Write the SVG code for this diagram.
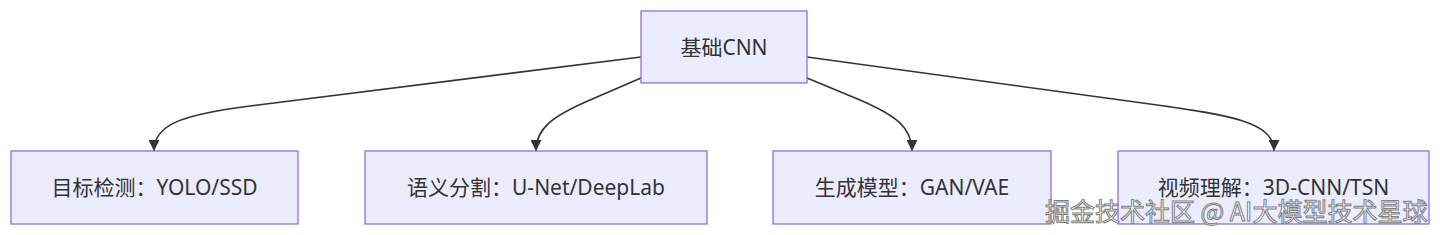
<svg xmlns="http://www.w3.org/2000/svg" width="1440" height="235" viewBox="0 0 1440 235">
<defs>
<style>
.node rect{fill:#ECECFF;stroke:#9370DB;stroke-width:1.3}
.node text{font-family:"Noto Sans","Noto Sans CJK SC",sans-serif;font-size:21px;fill:#333333;text-anchor:middle;dominant-baseline:central}
.edge{fill:none;stroke:#333333;stroke-width:1.6}
.wm{font-family:"Noto Sans CJK SC",sans-serif;font-size:25px;fill:#ffffff;stroke:#808080;stroke-width:1}
</style>
<marker id="arrow" viewBox="0 0 10 10" refX="10" refY="5" markerUnits="userSpaceOnUse" markerWidth="11" markerHeight="11" orient="auto">
<path d="M0,0 L10,5 L0,10 z" fill="#333333"/>
</marker>
</defs>
<rect width="1440" height="235" fill="#ffffff"/>
<g id="edges">
<path class="edge" marker-end="url(#arrow)" d="M641,57 L250,106 C180,115 154,125 154,151"/>
<path class="edge" marker-end="url(#arrow)" d="M641,78 L590,100 C553,116 536,128 536,151"/>
<path class="edge" marker-end="url(#arrow)" d="M807,78 L860,100 C897,116 912,128 912,151"/>
<path class="edge" marker-end="url(#arrow)" d="M807,57 L1150,104 C1230,115 1274,122 1274,151"/>
</g>
<g id="node-base" class="node">
<rect x="641" y="11" width="166" height="72"/>
<text x="724" y="47">基础CNN</text>
</g>
<g id="node-detect" class="node">
<rect x="11" y="151" width="287" height="73"/>
<text x="154.5" y="187">目标检测：YOLO/SSD</text>
</g>
<g id="node-seg" class="node">
<rect x="365" y="151" width="342" height="73"/>
<text x="536" y="187">语义分割：U-Net/DeepLab</text>
</g>
<g id="node-gen" class="node">
<rect x="773" y="151" width="278" height="73"/>
<text x="912" y="187">生成模型：GAN/VAE</text>
</g>
<g id="node-video" class="node">
<rect x="1118" y="151" width="311" height="73"/>
<text x="1273.5" y="187">视频理解：3D-CNN/TSN</text>
</g>
<text class="wm" x="1045" y="221">掘金技术社区 @ AI大模型技术星球</text>
</svg>
